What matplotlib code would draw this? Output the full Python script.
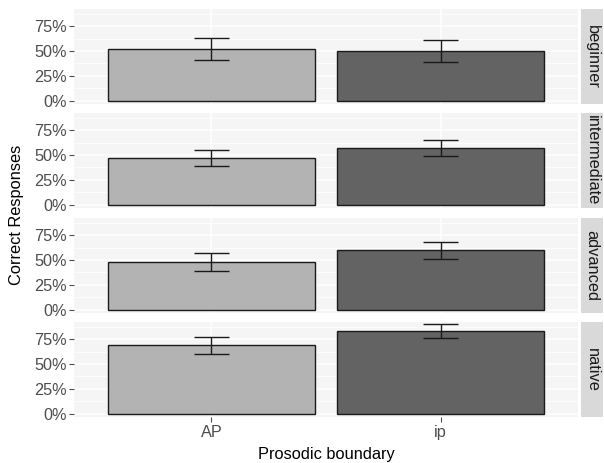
import numpy as np
import matplotlib
matplotlib.use('Agg')
import matplotlib.pyplot as plt
from matplotlib.ticker import FuncFormatter

plt.rcParams['font.family'] = ['Liberation Sans', 'DejaVu Sans']

# data
groups = ['beginner', 'intermediate', 'advanced', 'native']
boundary = ['AP', 'ip']
means = {
    'beginner':     [0.52, 0.50],
    'intermediate': [0.47, 0.57],
    'advanced':     [0.48, 0.60],
    'native':       [0.69, 0.83],
}
errs = {
    'beginner':     [0.11, 0.11],
    'intermediate': [0.08, 0.08],
    'advanced':     [0.09, 0.085],
    'native':       [0.087, 0.07],
}
yticks = [0, 0.25, 0.5, 0.75]
fills = ['#b3b3b3', '#636363']

W, H = 604, 463
fig = plt.figure(figsize=(W / 100, H / 100), dpi=100)

left, right = 74, 578
strip_l, strip_r = 581, 603
tops = [9, 113, 218, 322]
ph = 95

x = np.arange(1, len(boundary) + 1)
pct = FuncFormatter(lambda v, p: '%d%%' % round(v * 100))

for i, g in enumerate(groups):
    t = tops[i]
    ax = fig.add_axes([left / W, 1 - (t + ph) / H, (right - left) / W, ph / H])
    ax.set_facecolor('#f5f5f5')
    for s in ax.spines.values():
        s.set_visible(False)
    ax.set_xlim(0.4, 2.6)
    ax.set_ylim(-0.035, 0.925)
    ax.set_yticks(yticks)
    ax.set_yticks([0.125, 0.375, 0.625, 0.875], minor=True)
    ax.yaxis.set_major_formatter(pct)
    ax.grid(True, which='major', color='white', linewidth=1.1)
    ax.grid(True, which='minor', axis='y', color='white', linewidth=0.55)
    ax.set_axisbelow(True)
    ax.set_xticks(x)
    ax.tick_params(axis='y', which='major', length=3.5, color='#4d4d4d',
                   labelcolor='#4d4d4d', labelsize=11.7, pad=1.5)
    ax.tick_params(axis='y', which='minor', length=0)
    if i == len(groups) - 1:
        ax.set_xticklabels(boundary)
        ax.tick_params(axis='x', length=3.5, color='#4d4d4d',
                       labelcolor='#4d4d4d', labelsize=11.7, pad=2)
    else:
        ax.tick_params(axis='x', length=0, labelbottom=False)

    ax.bar(x, means[g], width=0.9, color=fills, edgecolor='#1a1a1a', linewidth=1)
    ax.errorbar(x, means[g], yerr=errs[g], fmt='none', ecolor='#1a1a1a',
                elinewidth=1, capsize=0)
    for xi, m, e in zip(x, means[g], errs[g]):
        ax.hlines([m - e, m + e], xi - 0.075, xi + 0.075, color='#1a1a1a', linewidth=1)

    sax = fig.add_axes([strip_l / W, 1 - (t + ph) / H, (strip_r - strip_l) / W, ph / H])
    sax.set_facecolor('#d9d9d9')
    sax.set_xticks([])
    sax.set_yticks([])
    for s in sax.spines.values():
        s.set_visible(False)
    sax.text(0.5, 0.5, g, rotation=-90, ha='center', va='center',
             fontsize=11.8, color='#1a1a1a', transform=sax.transAxes)

fig.text(17 / W, 1 - 215 / H, 'Correct Responses', rotation=90,
         ha='center', va='center', fontsize=11.8, color='black')
fig.text((left + right) / 2 / W, 1 - 455 / H, 'Prosodic boundary',
         ha='center', va='center', fontsize=11.8, color='black')

fig.savefig('out.png', dpi=100)
